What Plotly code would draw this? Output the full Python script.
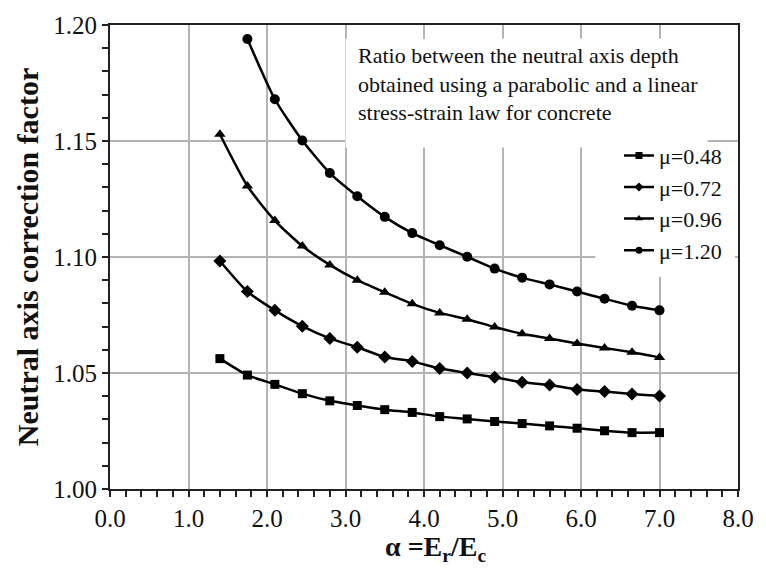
import plotly.graph_objects as go

alpha = [1.40, 1.75, 2.10, 2.45, 2.80, 3.15, 3.50, 3.85, 4.20,
         4.55, 4.90, 5.25, 5.60, 5.95, 6.30, 6.65, 7.00]

mu_048 = [1.0562, 1.0491, 1.0451, 1.0411, 1.0380, 1.0360, 1.0342, 1.0330, 1.0312,
          1.0302, 1.0291, 1.0282, 1.0272, 1.0262, 1.0251, 1.0243, 1.0243]
mu_072 = [1.0983, 1.0851, 1.0770, 1.0702, 1.0649, 1.0611, 1.0569, 1.0550, 1.0519,
          1.0500, 1.0482, 1.0460, 1.0448, 1.0429, 1.0420, 1.0409, 1.0401]
mu_096 = [1.1529, 1.1306, 1.1157, 1.1047, 1.0966, 1.0900, 1.0848, 1.0798, 1.0759,
          1.0732, 1.0698, 1.0669, 1.0649, 1.0627, 1.0608, 1.0589, 1.0567]
alpha_120 = alpha[1:]
mu_120 = [1.1940, 1.1680, 1.1502, 1.1362, 1.1262, 1.1173, 1.1103, 1.1051,
          1.1001, 1.0950, 1.0911, 1.0882, 1.0851, 1.0820, 1.0790, 1.0770]

series = [
    ("μ=0.48", alpha, mu_048, "square", 9),
    ("μ=0.72", alpha, mu_072, "diamond", 10),
    ("μ=0.96", alpha, mu_096, "triangle-up", 10),
    ("μ=1.20", alpha_120, mu_120, "circle", 10),
]

x_ticks = [0, 1, 2, 3, 4, 5, 6, 7, 8]
x_labels = ["0.0", "1.0", "2.0", "3.0", "4.0", "5.0", "6.0", "7.0", "8.0"]
y_ticks = [1.00, 1.05, 1.10, 1.15, 1.20]
y_labels = ["1.00", "1.05", "1.10", "1.15", "1.20"]

note = ("Ratio between the neutral axis depth<br>"
        "obtained using a parabolic and a linear<br>"
        "stress-strain law for concrete")
x_title = "<b>α =E<sub>r</sub>/E<sub>c</sub></b>"
y_title = "<b>Neutral axis correction factor</b>"

serif = "Liberation Serif, Times New Roman, serif"

fig = go.Figure()
for name, xs, ys, sym, sz in series:
    fig.add_trace(go.Scatter(
        x=xs, y=ys, name=name, mode="lines+markers", showlegend=False,
        line=dict(color="black", width=2.5, shape="spline", smoothing=0.6),
        marker=dict(symbol=sym, size=sz, color="black"),
    ))
# legend entries (small symbols, as in the reference legend)
for name, xs, ys, sym, sz in series:
    fig.add_trace(go.Scatter(
        x=[None], y=[None], name=name, mode="lines+markers", showlegend=True,
        line=dict(color="black", width=2.5),
        marker=dict(symbol=sym, size=7, color="black"),
    ))

W, H = 766, 568
ml, mr, mt, mb = 109.5, 18, 19, 79

def px2x(px):
    return (px - ml) / (W - ml - mr)

def py2y(py):
    return 1 - (py - mt) / (H - mt - mb)

# white boxes over the grid for the note and the legend
fig.add_shape(type="rect", xref="paper", yref="paper", layer="above",
              x0=px2x(349), x1=px2x(717), y0=py2y(143), y1=py2y(33),
              fillcolor="white", line=dict(width=0))
fig.add_shape(type="rect", xref="paper", yref="paper", layer="above",
              x0=px2x(603), x1=px2x(745), y0=py2y(274), y1=py2y(140),
              fillcolor="white", line=dict(width=0))

fig.add_annotation(text=note, xref="paper", yref="paper",
                   x=px2x(360), y=py2y(35), xanchor="left", yanchor="top",
                   align="left", showarrow=False,
                   font=dict(family=serif, size=22, color="#111"))

fig.add_annotation(text=x_title, xref="paper", yref="paper",
                   x=px2x(440), y=py2y(568), xanchor="center", yanchor="bottom",
                   showarrow=False, borderpad=0,
                   font=dict(family=serif, size=28, color="#111"))

axis_common = dict(
    showline=True, linecolor="#222", linewidth=2, mirror=True,
    showgrid=True, gridcolor="#b4b4b4", gridwidth=1.5,
    ticks="outside", ticklen=6, tickwidth=1.5, tickcolor="#222",
    tickfont=dict(family=serif, size=25, color="#111"),
    zeroline=False,
)

fig.update_xaxes(
    range=[0, 8], tickvals=x_ticks, ticktext=x_labels,
    minor=dict(dtick=0.2, ticks="outside", ticklen=6, tickwidth=1.5,
               tickcolor="#222", showgrid=False),
    **axis_common,
)
fig.update_yaxes(
    range=[1.0, 1.2], tickvals=y_ticks, ticktext=y_labels,
    minor=dict(dtick=0.01, ticks="outside", ticklen=6, tickwidth=1.5,
               tickcolor="#222", showgrid=False),
    title=dict(text=y_title,
               font=dict(family=serif, size=30, color="#111"), standoff=6),
    **axis_common,
)

fig.update_layout(
    width=W, height=H,
    margin=dict(l=ml, r=mr, t=mt, b=mb),
    paper_bgcolor="white", plot_bgcolor="white",
    showlegend=True,
    legend=dict(x=px2x(627), y=py2y(130), xanchor="left", yanchor="top",
                bgcolor="rgba(0,0,0,0)", borderwidth=0,
                font=dict(family=serif, size=22, color="#111"),
                itemwidth=30, tracegroupgap=0),
)

fig.write_html("out.html")
